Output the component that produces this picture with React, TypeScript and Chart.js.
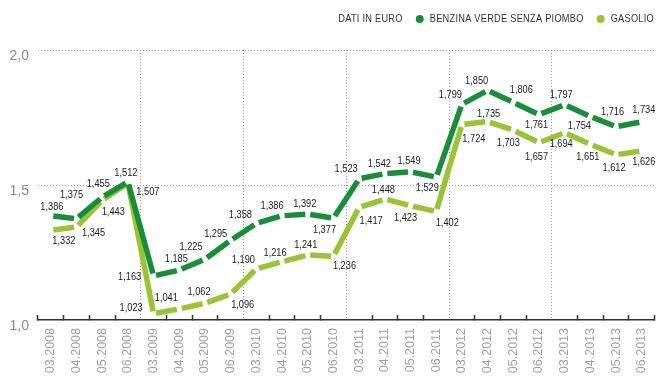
import React, { useEffect, useRef } from 'react';
import { Chart, registerables } from 'chart.js';

Chart.register(...registerables);

// ---------- DATA ----------
const categories = [
  '03.2008', '04.2008', '05.2008', '06.2008',
  '03.2009', '04.2009', '05.2009', '06.2009',
  '03.2010', '04.2010', '05.2010', '06.2010',
  '03.2011', '04.2011', '05.2011', '06.2011',
  '03.2012', '04.2012', '05.2012', '06.2012',
  '03.2013', '04.2013', '05.2013', '06.2013',
];
const benzina = [
  1.386, 1.375, 1.455, 1.512,
  1.163, 1.185, 1.225, 1.295,
  1.358, 1.386, 1.392, 1.377,
  1.523, 1.542, 1.549, 1.529,
  1.799, 1.850, 1.806, 1.761,
  1.797, 1.754, 1.716, 1.734,
];
const gasolio = [
  1.332, 1.345, 1.443, 1.507,
  1.023, 1.041, 1.062, 1.096,
  1.190, 1.216, 1.241, 1.236,
  1.417, 1.448, 1.423, 1.402,
  1.724, 1.735, 1.703, 1.657,
  1.694, 1.651, 1.612, 1.626,
];
const yTickValues = [1.0, 1.5, 2.0];
const yTickLabels = ['1,0', '1,5', '2,0'];
const seriesNames = ['BENZINA VERDE SENZA PIOMBO', 'GASOLIO'];
const legendTitle = 'DATI IN EURO';

// ---------- STYLE ----------
const FONT = "'Liberation Sans', Arial, sans-serif";
const NARROW = 0.84; // horizontal squeeze to imitate a narrow face
const DARK_GREEN = '#1a8d3b';
const LIGHT_GREEN = '#98c435';
const GROUP = 4;
const GAP = 5;

// value label placement (offset from the point, px)
const benzinaLabelOffsets = [
  [1, -9], [-5, -24], [-4, -13], [-2, -9],
  [-24, 1], [-3, -11], [-14, -12.5], [-15, -6],
  [-16, -8], [-10, -10], [-3, -10], [-9, 12],
  [-13, -9.5], [-5.5, -10], [-1.5, -11], [-9, 11],
  [-11.5, -9], [-11, -9.5], [8, -12], [-2.5, 10.5],
  [-3.5, -10], [-11, 10], [-3.5, -15], [2, -12],
];
const gasolioLabelOffsets = [
  [13, 11], [17, 6], [11, 12], [20, 8.5],
  [-22.5, -5.5], [-13, -10.5], [-6, -11], [12, 11],
  [-13, -9], [-7, -9], [-2, -10], [11, 10],
  [12, 14], [-1.5, -9], [-5, 12.5], [11, 12],
  [12, 14], [1, -8], [-5, 12.5], [-2.5, 14.5],
  [-3.5, 11.5], [-2.5, 13], [-2, 13], [2, 10.5],
];
const labelOffsets = [benzinaLabelOffsets, gasolioLabelOffsets];

const fmt3 = (v: number) => v.toFixed(3).replace('.', ',');
const isBoundary = (i: number) => i > 0 && i < categories.length && i % GROUP === 0;

const segDash = (c: any) => {
  const len = Math.hypot(c.p1.x - c.p0.x, c.p1.y - c.p0.y);
  return [Math.max(len - GAP, 1), GAP];
};

const narrowText = (ctx: CanvasRenderingContext2D, text: string, x: number, y: number) => {
  ctx.save();
  ctx.translate(x, y);
  ctx.scale(NARROW, 1);
  ctx.fillText(text, 0, 0);
  ctx.restore();
};

const valueLabelsPlugin = {
  id: 'valueLabels',
  afterDatasetsDraw(chart: any) {
    const ctx = chart.ctx;
    ctx.save();
    ctx.font = `11px ${FONT}`;
    ctx.fillStyle = '#1a1a1a';
    ctx.textAlign = 'center';
    ctx.textBaseline = 'middle';
    chart.data.datasets.forEach((ds: any, di: number) => {
      const meta = chart.getDatasetMeta(di);
      meta.data.forEach((pt: any, i: number) => {
        const [dx, dy] = labelOffsets[di][i];
        narrowText(ctx, fmt3(ds.data[i]), pt.x + dx, pt.y + dy);
      });
    });
    ctx.restore();
  },
};

const legendPlugin = {
  id: 'customLegend',
  afterDraw(chart: any) {
    const ctx = chart.ctx;
    ctx.save();
    ctx.font = `11px ${FONT}`;
    try { (ctx as any).letterSpacing = '0.3px'; } catch (e) {}
    ctx.textBaseline = 'middle';
    ctx.textAlign = 'left';
    const y = 19;
    const right = chart.width - 16;
    const colors = [DARK_GREEN, LIGHT_GREEN];
    let x = right;
    const items: any[] = [];
    for (let k = seriesNames.length - 1; k >= 0; k--) {
      const w = ctx.measureText(seriesNames[k]).width * NARROW;
      const textX = x - w;
      const dotX = textX - 10;
      items.push({ text: seriesNames[k], textX, dotX, color: colors[k] });
      x = dotX - 17;
    }
    const tw = ctx.measureText(legendTitle).width * NARROW;
    ctx.fillStyle = '#333333';
    narrowText(ctx, legendTitle, x - tw, y);
    items.forEach((it) => {
      ctx.fillStyle = it.color;
      ctx.beginPath();
      ctx.arc(it.dotX, y, 4, 0, Math.PI * 2);
      ctx.fill();
      ctx.fillStyle = '#333333';
      narrowText(ctx, it.text, it.textX, y);
    });
    ctx.restore();
  },
};

export default function App() {
  const ref = useRef<HTMLCanvasElement>(null);
  useEffect(() => {
    const canvas = ref.current;
    if (!canvas) return;
    const lineDs = (label: string, data: number[], color: string, order: number) => ({
      label,
      data,
      borderColor: color,
      backgroundColor: color,
      borderWidth: 5.5,
      pointRadius: 0,
      pointHoverRadius: 0,
      tension: 0,
      fill: false,
      order,
      borderCapStyle: 'butt' as const,
      segment: { borderDash: segDash, borderDashOffset: -GAP / 2 },
    });
    const chart = new Chart(canvas, {
      type: 'line',
      data: {
        labels: categories,
        datasets: [
          lineDs(seriesNames[0], benzina, DARK_GREEN, 0),
          lineDs(seriesNames[1], gasolio, LIGHT_GREEN, 1),
        ],
      },
      options: {
        responsive: false,
        animation: false,
        devicePixelRatio: 1,
        layout: { padding: { top: 50, right: 11, left: 0, bottom: 0 } },
        plugins: { legend: { display: false }, tooltip: { enabled: false } },
        scales: {
          x: {
            type: 'category',
            offset: true,
            grid: {
              offset: true,
              drawOnChartArea: true,
              drawTicks: true,
              tickLength: -5,
              lineWidth: 1,
              color: (c: any) => (isBoundary(c.index) ? '#9a9a9a' : 'rgba(0,0,0,0)'),
              tickColor: (c: any) => (isBoundary(c.index) ? 'rgba(0,0,0,0)' : '#333333'),
              tickWidth: 1.5,
              tickBorderDash: [],
            },
            border: { display: true, color: '#333333', width: 1.5, dash: [1, 2] },
            ticks: {
              autoSkip: false,
              minRotation: 90,
              maxRotation: 90,
              padding: 13,
              color: '#a0a0a0',
              font: { family: FONT, size: 12.5 },
            },
            afterFit: (s: any) => { s.height = 66; },
          },
          y: {
            min: 1,
            max: 2,
            afterBuildTicks: (axis: any) => { axis.ticks = yTickValues.map((v) => ({ value: v })); },
            grid: {
              drawTicks: false,
              lineWidth: 1,
              color: (c: any) => (c.tick && c.tick.value === yTickValues[0] ? 'rgba(0,0,0,0)' : '#a0a0a0'),
            },
            border: { display: false, dash: [1, 2] },
            ticks: {
              padding: 9,
              labelOffset: 6.5,
              color: '#8a8a8a',
              font: { family: FONT, size: 14 },
              callback: (v: any) => {
                const idx = yTickValues.indexOf(Number(v));
                return idx >= 0 ? yTickLabels[idx] : String(v);
              },
            },
            afterFit: (s: any) => { s.width = 38; },
          },
        },
      } as any,
      plugins: [valueLabelsPlugin, legendPlugin],
    });
    return () => chart.destroy();
  }, []);
  return (
    <div style={{ position: 'absolute', left: 0, top: 0, width: 670, height: 386, background: '#fff' }}>
      <canvas ref={ref} width={670} height={386} />
    </div>
  );
}
